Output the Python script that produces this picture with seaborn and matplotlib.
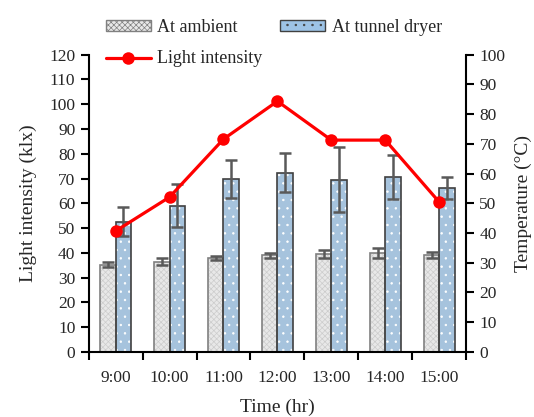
import numpy as np
import pandas as pd
import matplotlib
matplotlib.use("Agg")
import matplotlib.pyplot as plt
from matplotlib.patches import Rectangle
from matplotlib.lines import Line2D
from matplotlib.patches import Patch
import seaborn as sns

# ---- data ----
times = ["9:00", "10:00", "11:00", "12:00", "13:00", "14:00", "15:00"]
light_klx = [48.8, 62.5, 85.9, 101.2, 85.5, 85.5, 60.5]
temp_ambient = [29.4, 30.3, 31.6, 32.5, 32.9, 33.3, 32.7]
err_ambient = [0.7, 1.2, 0.7, 0.8, 1.3, 1.8, 1.0]
temp_tunnel = [43.8, 49.2, 58.2, 60.3, 58.0, 58.9, 55.1]
err_tunnel = [4.9, 7.2, 6.3, 6.6, 10.8, 7.5, 3.7]
left_ticks = list(range(0, 121, 10))
right_ticks = list(range(0, 101, 10))

sns.set_theme(style="ticks")
plt.rcParams["font.family"] = ["Liberation Serif", "DejaVu Serif"]
plt.rcParams["hatch.linewidth"] = 0.5

df = pd.DataFrame({
    "Time": times * 2,
    "Temp": temp_ambient + temp_tunnel,
    "Condition": ["At ambient"] * len(times) + ["At tunnel dryer"] * len(times),
})

fig = plt.figure(figsize=(5.34, 4.17), dpi=100)
ax = fig.add_axes([0.166, 0.156, 0.707, 0.713])
ax2 = ax.twinx()

amb_face, amb_hatch, amb_edge = "#e8e8e8", "#cccccc", "#808080"
tun_face, tun_hatch, tun_edge = "#9dc3e6", "#ffffff", "#404040"
amb_pat, tun_pat = "xxxxxx", ".."

sns.barplot(data=df, x="Time", y="Temp", hue="Condition", order=times,
            hue_order=["At ambient", "At tunnel dryer"],
            palette={"At ambient": amb_face, "At tunnel dryer": tun_face},
            width=0.57, gap=0, errorbar=None, legend=False, ax=ax2)

styles = [(amb_hatch, amb_pat, amb_edge, err_ambient),
          (tun_hatch, tun_pat, tun_edge, err_tunnel)]
for cont, (hc, hp, ec, errs) in zip(ax2.containers, styles):
    xs, ys = [], []
    for p in cont.patches:
        p.set_edgecolor(hc)
        p.set_hatch(hp)
        p.set_linewidth(0)
        ax2.add_patch(Rectangle((p.get_x(), p.get_y()), p.get_width(), p.get_height(),
                                fill=False, edgecolor=ec, linewidth=1.2, zorder=3))
        xs.append(p.get_x() + p.get_width() / 2)
        ys.append(p.get_height())
    ax2.errorbar(xs, ys, yerr=errs, fmt="none", ecolor="#595959",
                 elinewidth=1.8, capsize=4.5, capthick=1.8, zorder=4)

sns.lineplot(x=np.arange(len(times)), y=light_klx, ax=ax, color="#ff0000",
             linewidth=2.3, marker="o", markersize=9, markeredgewidth=0,
             legend=False)

ax.set_zorder(2)
ax2.set_zorder(1)
ax.patch.set_visible(False)

ax.set_ylim(0, 120)
ax.set_yticks(left_ticks)
ax2.set_ylim(0, 100)
ax2.set_yticks(right_ticks)
ax.set_xlim(-0.5, len(times) - 0.5)
ax.set_xticks(np.arange(-0.5, len(times), 1.0))
ax.set_xticklabels([])
ax.set_xticks(np.arange(len(times)), minor=True)
ax.set_xticklabels(times, minor=True)
ax.tick_params(axis="x", which="minor", length=0, pad=13, labelsize=12.5)
ax.tick_params(axis="x", which="major", length=6, width=1.5, direction="out", color="black")
ax.tick_params(axis="y", length=6, width=1.5, direction="out", labelsize=12.5, color="black")
ax2.tick_params(axis="y", length=6, width=1.5, direction="out", labelsize=12.5, color="black")

for s in ["top", "right"]:
    ax.spines[s].set_visible(False)
for s in ["top", "left", "bottom"]:
    ax2.spines[s].set_visible(False)
for s in ["left", "bottom"]:
    ax.spines[s].set_linewidth(1.5)
    ax.spines[s].set_color("black")
ax2.spines["right"].set_linewidth(1.5)
ax2.spines["right"].set_color("black")

ax.set_xlabel("Time (hr)", fontsize=14, labelpad=9)
ax.set_ylabel("Light intensity (klx)", fontsize=14, labelpad=9)
ax2.set_ylabel("Temperature (°C)", fontsize=14, labelpad=7)
ax2.set_xlabel("")

handles = [
    Patch(facecolor=amb_face, edgecolor=amb_edge, hatch=amb_pat, linewidth=1.0),
    Line2D([0], [0], color="#ff0000", linewidth=2.3, marker="o", markersize=9, markeredgewidth=0),
    Patch(facecolor=tun_face, edgecolor=tun_edge, hatch=tun_pat, linewidth=1.0),
]
labels = ["At ambient", "Light intensity", "At tunnel dryer"]
fig.legend(handles, labels, ncol=2, loc="upper left", bbox_to_anchor=(0.174, 0.985),
           frameon=False, fontsize=13, handlelength=2.5, handleheight=0.5,
           handletextpad=0.35, columnspacing=1.0, labelspacing=0.8, borderpad=0.2)

fig.savefig("out.png", dpi=100)
